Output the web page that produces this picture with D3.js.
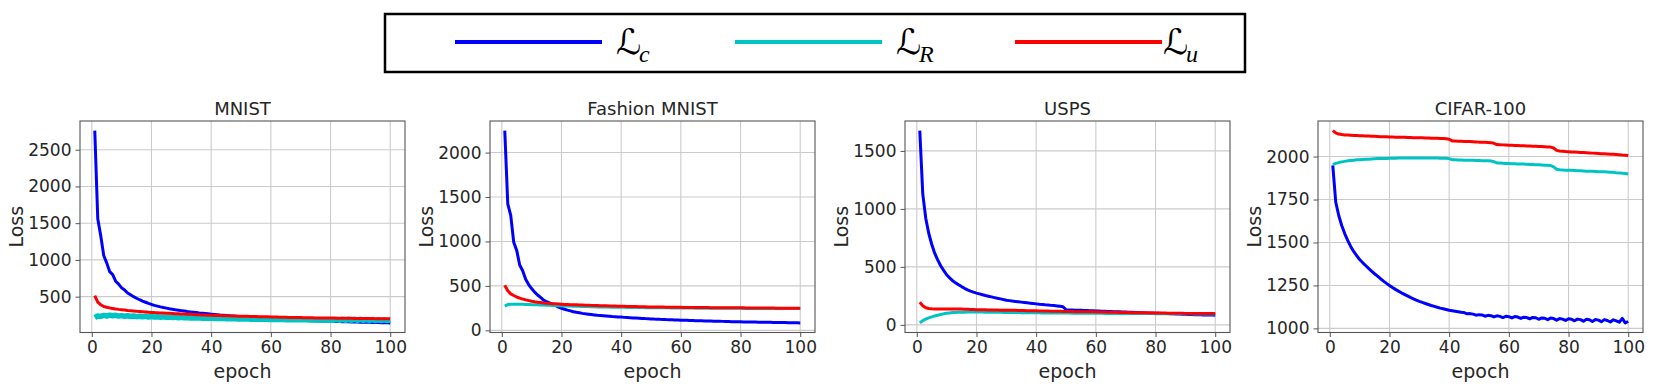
<!DOCTYPE html>
<html>
<head>
<meta charset="utf-8">
<script src="https://cdn.jsdelivr.net/npm/d3@7"></script>
<style>
  body { margin: 0; background: #fff; }
  svg { display: block; }
</style>
</head>
<body>
<svg id="lossCurves" width="1662" height="390"></svg>
<script>
// Epochs on the x axis (1..100) and the tick labels used by every panel
const epochs = d3.range(1, 101);
const xTickValues = [0, 20, 40, 60, 80, 100];

const panelTitles = ["MNIST", "Fashion MNIST", "USPS", "CIFAR-100"];
const yTickValues = [
    [500, 1000, 1500, 2000, 2500],
    [0, 500, 1000, 1500, 2000],
    [0, 500, 1000, 1500],
    [1000, 1250, 1500, 1750, 2000]
];

// Legend entries: subscript of the script L and line colour
const lossNames = ["c", "R", "u"];
const lossColors = ["#0000ff", "#00c4c4", "#ff0000"];

// MNIST
const mnistLc = [2760, 1560, 1330, 1060, 960, 840, 800, 710, 670, 620,
    590, 550, 525, 500, 478, 458, 440, 424, 408, 394,
    382, 371, 361, 352, 344, 336, 329, 322, 316, 310,
    304, 298, 293, 288, 283, 278, 274, 270, 266, 262,
    258, 254, 250, 247, 244, 240, 237, 234, 231, 228,
    225, 222, 219, 216, 213, 210, 208, 205, 203, 200,
    198, 196, 194, 192, 190, 188, 186, 184, 182, 180,
    178, 176, 175, 173, 172, 170, 169, 167, 166, 165,
    163, 162, 161, 160, 158, 157, 156, 155, 154, 153,
    152, 151, 150, 149, 148, 147, 146, 145, 144, 143];
const mnistLR = [215, 238, 232, 245, 236, 248, 240, 246, 236, 242,
    233, 240, 230, 237, 228, 234, 226, 232, 224, 229,
    222, 227, 220, 225, 218, 223, 216, 221, 214, 219,
    212, 216, 210, 214, 208, 212, 207, 210, 205, 208,
    203, 207, 201, 205, 200, 203, 198, 202, 197, 200,
    195, 199, 194, 197, 193, 196, 191, 195, 190, 193,
    189, 192, 188, 191, 187, 190, 186, 189, 185, 188,
    184, 187, 183, 186, 182, 185, 181, 184, 180, 183,
    179, 190, 178, 192, 178, 191, 177, 192, 177, 190,
    176, 189, 176, 188, 175, 186, 175, 185, 174, 183];
const mnistLu = [515, 425, 390, 365, 355, 347, 340, 333, 327, 322,
    317, 312, 308, 304, 300, 297, 294, 291, 288, 286,
    283, 281, 279, 277, 275, 273, 271, 269, 267, 265,
    263, 261, 259, 257, 255, 253, 252, 250, 248, 247,
    245, 244, 243, 241, 240, 239, 237, 236, 235, 234,
    233, 232, 231, 230, 229, 228, 227, 226, 225, 224,
    223, 222, 221, 220, 219, 218, 217, 217, 216, 215,
    214, 213, 213, 212, 211, 211, 210, 209, 209, 208,
    208, 207, 207, 206, 206, 205, 205, 204, 204, 203,
    203, 202, 202, 202, 201, 201, 200, 200, 200, 199];

// Fashion MNIST
const fashionLc = [2247, 1424, 1293, 990, 900, 735, 670, 575, 515, 470,
    430, 398, 370, 340, 322, 308, 296, 280, 262, 248,
    238, 228, 219, 210, 203, 197, 191, 186, 182, 178,
    174, 170, 167, 164, 161, 158, 155, 153, 151, 149,
    146, 144, 142, 140, 138, 136, 134, 132, 131, 129,
    127, 126, 124, 123, 121, 120, 119, 117, 116, 115,
    114, 113, 111, 110, 109, 108, 107, 106, 105, 104,
    103, 102, 102, 101, 100, 99, 98, 98, 97, 96,
    95, 95, 94, 93, 93, 92, 91, 91, 90, 90,
    89, 88, 88, 87, 87, 86, 86, 85, 85, 84];
const fashionLR = [272, 290, 294, 295, 295, 294, 293, 292, 291, 289,
    288, 287, 285, 284, 283, 281, 280, 279, 277, 276,
    275, 274, 273, 272, 271, 270, 269, 268, 267, 266,
    265, 264, 264, 263, 262, 262, 261, 260, 260, 259,
    259, 258, 258, 257, 257, 256, 256, 255, 255, 255,
    254, 254, 254, 253, 253, 253, 252, 252, 252, 252,
    251, 251, 251, 251, 250, 250, 250, 250, 250, 249,
    249, 249, 249, 249, 248, 248, 248, 248, 248, 248,
    247, 247, 247, 247, 247, 247, 247, 247, 247, 247,
    247, 247, 246, 246, 246, 246, 246, 246, 246, 246];
const fashionLu = [508, 445, 410, 392, 375, 362, 352, 343, 335, 328,
    322, 317, 313, 309, 306, 303, 300, 298, 296, 294,
    292, 291, 289, 288, 287, 285, 284, 283, 282, 281,
    280, 279, 278, 277, 276, 275, 274, 273, 272, 271,
    270, 269, 268, 268, 267, 266, 266, 265, 264, 264,
    263, 263, 262, 262, 261, 261, 260, 260, 259, 259,
    258, 258, 258, 257, 257, 257, 256, 256, 256, 255,
    255, 255, 255, 254, 254, 254, 254, 253, 253, 253,
    253, 252, 252, 252, 252, 252, 251, 251, 251, 251,
    251, 250, 250, 250, 250, 250, 250, 249, 249, 249];

// USPS
const uspsLc = [1675, 1130, 920, 790, 695, 618, 560, 510, 470, 432,
    405, 381, 362, 346, 330, 315, 302, 291, 282, 274,
    267, 260, 253, 247, 241, 235, 229, 224, 218, 213,
    209, 205, 202, 199, 196, 193, 190, 187, 184, 181,
    178, 176, 173, 171, 168, 166, 163, 160, 156, 130,
    129, 128, 127, 126, 125, 124, 123, 122, 121, 120,
    119, 118, 117, 116, 115, 114, 113, 112, 111, 110,
    109, 108, 107, 106, 105, 104, 103, 102, 102, 101,
    100, 99, 98, 97, 96, 95, 94, 93, 92, 91,
    90, 89, 88, 88, 87, 86, 85, 85, 84, 83];
const uspsLR = [17, 37, 49, 60, 69, 77, 83, 89, 95, 100,
    103, 106, 107, 108, 109, 109, 110, 110, 110, 110,
    110, 110, 109, 109, 109, 108, 108, 108, 107, 107,
    107, 106, 106, 106, 105, 105, 105, 104, 104, 104,
    104, 103, 103, 103, 103, 103, 102, 102, 102, 102,
    102, 101, 101, 101, 101, 101, 100, 100, 100, 100,
    100, 100, 99, 99, 99, 99, 99, 98, 98, 98,
    98, 98, 98, 97, 97, 97, 97, 97, 97, 96,
    96, 96, 96, 96, 96, 95, 95, 95, 95, 95,
    95, 95, 94, 94, 94, 94, 94, 94, 94, 94];
const uspsLu = [195, 165, 147, 141, 138, 137, 137, 137, 137, 137,
    137, 137, 137, 136, 136, 135, 134, 133, 132, 131,
    131, 130, 130, 129, 129, 128, 128, 127, 127, 126,
    126, 125, 125, 124, 124, 123, 122, 122, 121, 121,
    120, 120, 119, 119, 118, 118, 117, 117, 116, 116,
    115, 115, 114, 114, 114, 113, 113, 112, 112, 111,
    111, 110, 110, 109, 109, 108, 108, 107, 107, 106,
    106, 105, 105, 105, 104, 104, 104, 103, 103, 103,
    102, 102, 102, 101, 101, 101, 100, 100, 100, 99,
    99, 99, 99, 98, 98, 98, 98, 97, 97, 97];

// CIFAR-100
const cifarLc = [1948, 1734, 1657, 1599, 1552, 1512, 1477, 1448, 1424, 1401,
    1383, 1366, 1349, 1333, 1318, 1304, 1289, 1275, 1262, 1250,
    1238, 1227, 1217, 1207, 1198, 1189, 1180, 1172, 1164, 1157,
    1151, 1145, 1139, 1133, 1128, 1123, 1118, 1114, 1110, 1106,
    1103, 1100, 1097, 1094, 1092, 1085, 1086, 1083, 1077, 1080,
    1078, 1071, 1076, 1074, 1067, 1073, 1070, 1063, 1070, 1068,
    1061, 1069, 1066, 1058, 1065, 1063, 1056, 1064, 1062, 1053,
    1061, 1059, 1051, 1060, 1057, 1048, 1057, 1054, 1046, 1056,
    1053, 1044, 1054, 1051, 1042, 1053, 1050, 1040, 1052, 1048,
    1039, 1051, 1046, 1037, 1050, 1044, 1036, 1058, 1032, 1040];
const cifarLR = [1953, 1960, 1965, 1969, 1972, 1975, 1977, 1979, 1981, 1982,
    1983, 1984, 1985, 1986, 1987, 1988, 1988, 1989, 1989, 1990,
    1990, 1990, 1991, 1991, 1991, 1991, 1991, 1991, 1991, 1991,
    1991, 1991, 1991, 1991, 1991, 1991, 1990, 1990, 1990, 1988,
    1982, 1981, 1980, 1980, 1979, 1979, 1978, 1978, 1977, 1977,
    1976, 1976, 1975, 1974, 1970, 1963, 1962, 1961, 1960, 1959,
    1958, 1958, 1957, 1956, 1956, 1955, 1954, 1954, 1953, 1952,
    1951, 1950, 1949, 1948, 1940, 1926, 1923, 1922, 1921, 1920,
    1920, 1919, 1918, 1917, 1916, 1915, 1915, 1914, 1913, 1912,
    1912, 1911, 1910, 1909, 1908, 1906, 1905, 1903, 1901, 1899];
const cifarLu = [2151, 2138, 2131, 2128, 2126, 2125, 2124, 2123, 2122, 2121,
    2121, 2120, 2119, 2118, 2118, 2117, 2116, 2116, 2115, 2114,
    2114, 2113, 2113, 2112, 2112, 2111, 2111, 2110, 2110, 2109,
    2109, 2108, 2108, 2107, 2107, 2106, 2105, 2105, 2104, 2101,
    2091, 2090, 2089, 2089, 2088, 2087, 2087, 2086, 2085, 2084,
    2084, 2083, 2082, 2081, 2077, 2070, 2069, 2068, 2067, 2066,
    2066, 2065, 2064, 2063, 2063, 2062, 2061, 2060, 2060, 2059,
    2058, 2057, 2056, 2055, 2050, 2036, 2032, 2031, 2029, 2028,
    2027, 2026, 2025, 2024, 2023, 2022, 2021, 2020, 2019, 2018,
    2017, 2016, 2015, 2014, 2013, 2012, 2011, 2009, 2008, 2006];

const panelSeries = [
    [mnistLc, mnistLR, mnistLu],
    [fashionLc, fashionLR, fashionLu],
    [uspsLc, uspsLR, uspsLu],
    [cifarLc, cifarLR, cifarLu]
];

const svg = d3.select("#lossCurves");
const textColor = "#262626";
const font = "'DejaVu Sans', sans-serif";

// Legend box across the top
const legend = svg.append("g");
legend.append("rect")
    .attr("x", 385).attr("y", 14)
    .attr("width", 860).attr("height", 58)
    .attr("fill", "#fff")
    .attr("stroke", "#000")
    .attr("stroke-width", 2.5);

const legendX = d3.scalePoint().domain(lossNames).range([455, 1015]);
lossNames.forEach((name, i) => {
    const x0 = legendX(name);
    legend.append("line")
        .attr("x1", x0).attr("x2", x0 + 147)
        .attr("y1", 42).attr("y2", 42)
        .attr("stroke", lossColors[i])
        .attr("stroke-width", 4);
    const lx = x0 + 147 + (i === 2 ? 1 : 14);
    legend.append("text")
        .attr("x", lx).attr("y", 54)
        .style("font-family", "'DejaVu Sans', sans-serif")
        .style("font-size", "35px")
        .text("\u2112");
    legend.append("text")
        .attr("x", lx + 23).attr("y", 62)
        .style("font-family", "'Liberation Serif', serif")
        .style("font-style", "italic")
        .style("font-size", "24px")
        .text(name);
});

// One small-multiple panel per dataset
const panelLefts = [80, 490, 905, 1318];
const panelW = 325, panelTop = 121, panelH = 211.5;
const fmt = d3.format("d");

panelTitles.forEach((title, p) => {
    const g = svg.append("g")
        .attr("transform", `translate(${panelLefts[p]},${panelTop})`);
    const series = panelSeries[p];

    // matplotlib-style 5% margins around the data
    const x = d3.scaleLinear().domain([1 - 4.95, 100 + 4.95]).range([0, panelW]);
    const all = series.flat();
    const lo = d3.min(all), hi = d3.max(all), pad = (hi - lo) * 0.05;
    const y = d3.scaleLinear().domain([lo - pad, hi + pad]).range([panelH, 0]);

    // Grid
    g.append("g").selectAll("line").data(xTickValues).join("line")
        .attr("x1", d => x(d)).attr("x2", d => x(d))
        .attr("y1", 0).attr("y2", panelH)
        .attr("stroke", "#cbcbcb").attr("stroke-width", 1.1);
    g.append("g").selectAll("line").data(yTickValues[p]).join("line")
        .attr("x1", 0).attr("x2", panelW)
        .attr("y1", d => y(d)).attr("y2", d => y(d))
        .attr("stroke", "#cbcbcb").attr("stroke-width", 1.1);

    // Loss curves (the noisy MNIST L_R is drawn as a thicker band)
    const line = d3.line()
        .x((d, i) => x(epochs[i]))
        .y(d => y(d));
    series.forEach((values, k) => {
        g.append("path")
            .datum(values)
            .attr("fill", "none")
            .attr("stroke", lossColors[k])
            .attr("stroke-width", p === 0 && k === 1 ? 5.5 : 3)
            .attr("stroke-linejoin", "round")
            .attr("d", line);
    });

    // Frame
    g.append("rect")
        .attr("width", panelW).attr("height", panelH)
        .attr("fill", "none")
        .attr("stroke", "#555")
        .attr("stroke-width", 1.1);

    // Axes
    const xAxis = g.append("g")
        .attr("transform", `translate(0,${panelH})`)
        .call(d3.axisBottom(x).tickValues(xTickValues).tickFormat(fmt).tickSize(4.5).tickPadding(4));
    const yAxis = g.append("g")
        .call(d3.axisLeft(y).tickValues(yTickValues[p]).tickFormat(fmt).tickSize(4.5).tickPadding(4));
    [xAxis, yAxis].forEach(a => {
        a.select(".domain").remove();
        a.selectAll(".tick line").attr("stroke", "#555");
        a.selectAll("text")
            .attr("fill", textColor)
            .style("font-family", font)
            .style("font-size", "17px");
    });

    // Title and axis labels
    g.append("text")
        .attr("x", panelW / 2).attr("y", -6)
        .attr("text-anchor", "middle")
        .attr("fill", textColor)
        .style("font-family", font)
        .style("font-size", "18px")
        .text(title);
    g.append("text")
        .attr("x", panelW / 2).attr("y", panelH + 45)
        .attr("text-anchor", "middle")
        .attr("fill", textColor)
        .style("font-family", font)
        .style("font-size", "19px")
        .text("epoch");
    g.append("text")
        .attr("transform", "rotate(-90)")
        .attr("x", -panelH / 2).attr("y", -57)
        .attr("text-anchor", "middle")
        .attr("fill", textColor)
        .style("font-family", font)
        .style("font-size", "19px")
        .text("Loss");
});
</script>
</body>
</html>
